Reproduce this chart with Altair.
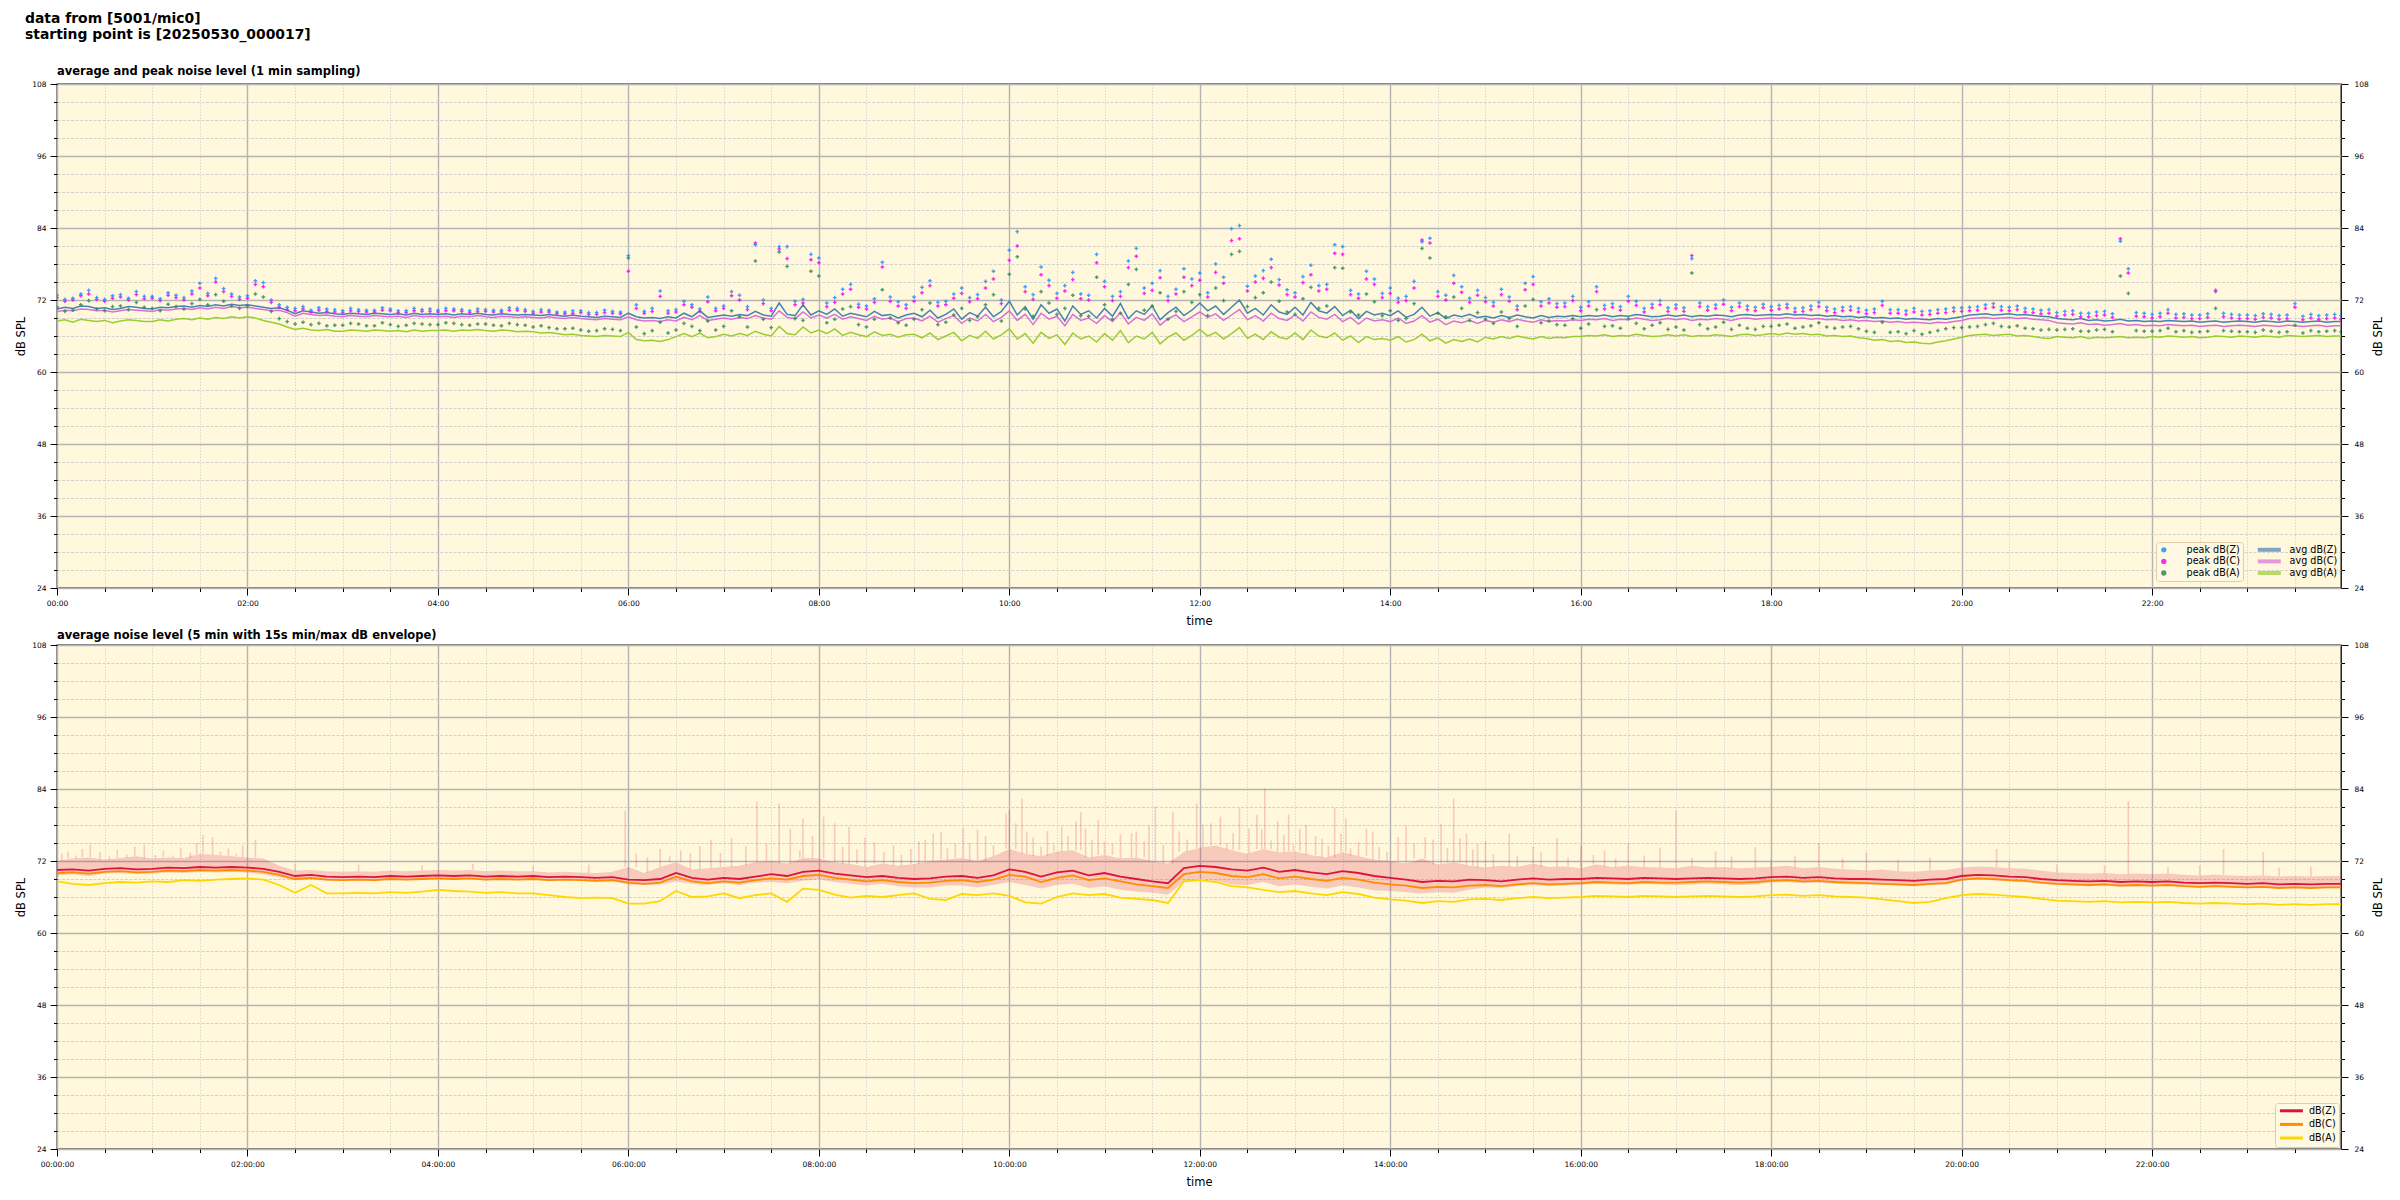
import altair as alt
import pandas as pd

FONT = "DejaVu Sans"
BG = "#fff8dc"
W, H = 2284, 504

# time in minutes after 00:00
T5 = [5 * i for i in range(288)] + [1439]
T10 = [10 * i for i in range(144)] + [1439]

# ---- top panel: 1-min averages (read every 5 min) ----
avg_z = [
    70.5, 70.8, 70.6, 71.0, 70.9, 70.6, 70.7, 70.4, 70.6, 70.9, 70.8, 70.6,
    70.5, 70.8, 70.7, 70.9, 71.0, 70.8, 71.1, 70.9, 71.2, 71.0, 71.3, 71.1,
    71.2, 71.0, 70.8, 70.6, 70.7, 70.3, 69.7, 70.2, 70.0, 69.8, 69.9, 69.7,
    69.6, 69.8, 69.7, 69.6, 69.8, 69.7, 69.6, 69.7, 69.5, 69.8, 69.6, 69.7,
    69.6, 69.7, 69.5, 69.7, 69.6, 69.8, 69.6, 69.5, 69.7, 69.6, 69.5, 69.6,
    69.5, 69.4, 69.6, 69.4, 69.3, 69.5, 69.3, 69.2, 69.1, 69.3, 69.2, 69.1,
    69.8, 69.2, 69.0, 69.1, 68.9, 69.2, 69.0, 69.8, 69.2, 70.2, 69.1, 69.3,
    69.5, 69.3, 69.6, 69.4, 70.1, 69.5, 69.3, 71.5, 69.6, 69.4, 71.2, 69.5,
    70.2, 69.6, 70.5, 69.3, 69.8, 69.5, 69.2, 70.1, 69.4, 69.6, 69.0, 69.5,
    69.8, 69.2, 70.3, 69.0, 69.6, 70.5, 68.8, 69.9, 69.3, 70.8, 69.2, 70.1,
    71.8, 69.5, 70.9, 68.8, 71.2, 69.8, 70.5, 68.5, 71.0, 69.6, 70.2, 69.0,
    70.6, 69.3, 71.4, 68.9, 70.2, 69.6, 71.0, 68.7, 69.9, 70.8, 69.4, 70.3,
    71.5, 70.2, 71.0, 69.6, 70.8, 72.0, 69.8, 70.6, 69.5, 71.2, 70.0, 69.6,
    70.8, 69.5, 71.6, 70.2, 69.8, 70.9, 69.4, 70.3, 68.9, 70.1, 69.5, 69.8,
    69.4, 70.2, 69.1, 69.6, 70.8, 69.3, 69.9, 68.9, 69.5, 69.2, 69.6, 69.1,
    69.3, 69.0, 69.4, 69.1, 69.5, 69.2, 69.0, 69.4, 69.1, 69.3, 69.2, 69.4,
    69.2, 69.4, 69.3, 69.5, 69.2, 69.4, 69.3, 69.6, 69.4, 69.2, 69.3, 69.5,
    69.3, 69.5, 69.2, 69.4, 69.3, 69.5, 69.4, 69.2, 69.5, 69.6, 69.4, 69.5,
    69.6, 69.5, 69.7, 69.5, 69.6, 69.4, 69.5, 69.3, 69.4, 69.2, 69.3, 69.1,
    69.2, 69.0, 69.1, 68.9, 69.0, 68.8, 68.9, 68.8, 68.7, 68.9, 68.8, 69.0,
    69.2, 69.5, 69.6, 69.7, 69.5, 69.6, 69.7, 69.5, 69.6, 69.4, 69.3, 69.2,
    68.9, 68.8, 68.7, 68.9, 68.6, 68.7, 68.5, 68.6, 68.8, 68.5, 68.6, 68.4,
    68.5, 68.4, 68.6, 68.5, 68.4, 68.5, 68.3, 68.4, 68.5, 68.3, 68.4, 68.5,
    68.4, 68.3, 68.5, 68.4, 68.3, 68.5, 68.4, 68.3, 68.4, 68.5, 68.3, 68.4,
    68.4,
]
avg_c = [
    70.1, 70.3, 70.2, 70.5, 70.4, 70.2, 70.3, 70.0, 70.2, 70.4, 70.3, 70.2,
    70.1, 70.4, 70.3, 70.5, 70.6, 70.4, 70.7, 70.5, 70.8, 70.6, 70.9, 70.7,
    70.8, 70.6, 70.4, 70.2, 70.3, 69.9, 69.3, 69.8, 69.6, 69.4, 69.5, 69.3,
    69.2, 69.4, 69.3, 69.2, 69.4, 69.3, 69.2, 69.3, 69.1, 69.4, 69.2, 69.3,
    69.2, 69.3, 69.1, 69.3, 69.2, 69.4, 69.2, 69.1, 69.3, 69.2, 69.1, 69.2,
    69.1, 69.0, 69.2, 69.0, 68.9, 69.1, 68.9, 68.8, 68.7, 68.9, 68.8, 68.7,
    69.2, 68.7, 68.5, 68.6, 68.4, 68.7, 68.5, 69.1, 68.7, 69.4, 68.6, 68.8,
    69.0, 68.8, 69.1, 68.9, 69.4, 69.0, 68.8, 70.2, 69.1, 68.9, 70.0, 69.0,
    69.5, 69.0, 69.6, 68.8, 69.2, 68.9, 68.6, 69.3, 68.8, 69.0, 68.4, 68.9,
    69.0, 68.5, 69.3, 68.3, 68.9, 69.4, 68.1, 69.0, 68.5, 69.6, 68.4, 69.1,
    70.2, 68.6, 69.6, 67.9, 69.8, 68.8, 69.3, 67.7, 69.6, 68.6, 69.0, 68.1,
    69.4, 68.4, 69.9, 68.0, 69.1, 68.6, 69.7, 67.8, 68.9, 69.5, 68.4, 69.2,
    70.0, 69.1, 69.7, 68.6, 69.5, 70.4, 68.7, 69.4, 68.5, 69.8, 68.9, 68.6,
    69.5, 68.5, 70.0, 69.1, 68.8, 69.6, 68.4, 69.1, 68.0, 69.0, 68.5, 68.7,
    68.4, 69.0, 68.1, 68.5, 69.4, 68.3, 68.8, 67.9, 68.5, 68.2, 68.6, 68.1,
    68.6, 68.3, 68.7, 68.4, 68.8, 68.5, 68.3, 68.7, 68.4, 68.6, 68.5, 68.7,
    68.6, 68.8, 68.7, 68.9, 68.6, 68.8, 68.7, 69.0, 68.8, 68.6, 68.7, 68.9,
    68.7, 68.9, 68.6, 68.8, 68.7, 68.9, 68.8, 68.6, 68.9, 69.0, 68.8, 68.9,
    69.0, 68.9, 69.1, 68.9, 69.0, 68.8, 68.9, 68.7, 68.8, 68.6, 68.7, 68.5,
    68.6, 68.4, 68.5, 68.3, 68.4, 68.2, 68.3, 68.2, 68.1, 68.3, 68.2, 68.4,
    68.6, 68.9, 69.0, 69.1, 68.9, 69.0, 69.1, 68.9, 69.0, 68.8, 68.7, 68.6,
    68.2, 68.1, 68.0, 68.2, 67.9, 68.0, 67.8, 67.9, 68.1, 67.8, 67.9, 67.7,
    67.8, 67.7, 67.9, 67.8, 67.7, 67.8, 67.6, 67.7, 67.8, 67.6, 67.7, 67.8,
    67.7, 67.6, 67.8, 67.7, 67.6, 67.8, 67.7, 67.6, 67.7, 67.8, 67.6, 67.7,
    67.7,
]
avg_a = [
    68.5, 68.7, 68.3, 68.8, 68.6, 68.4, 68.6, 68.2, 68.5, 68.7, 68.6, 68.4,
    68.4, 68.7, 68.5, 68.8, 68.9, 68.7, 69.0, 68.8, 69.1, 68.9, 69.2, 69.0,
    69.2, 69.0, 68.6, 68.3, 68.0, 67.5, 67.1, 67.3, 67.0, 66.9, 67.1, 66.8,
    66.8, 67.0, 66.9, 66.8, 67.0, 66.9, 66.8, 66.9, 66.7, 67.0, 66.8, 66.9,
    66.9, 67.0, 66.8, 67.0, 66.9, 67.1, 66.9, 66.8, 67.0, 66.9, 66.7, 66.8,
    66.7, 66.5, 66.6, 66.4, 66.2, 66.3, 66.1, 66.0, 65.9, 66.1, 66.0, 65.9,
    66.6, 65.4, 65.2, 65.3, 65.1, 65.4, 65.9, 66.4, 65.9, 66.5, 65.7, 65.9,
    66.3, 66.0, 66.4, 66.1, 66.8, 66.3, 66.0, 67.6, 66.4, 66.2, 67.5, 66.5,
    67.0, 66.4, 67.2, 66.1, 66.6, 66.2, 65.9, 66.7, 66.1, 66.3, 65.8, 66.2,
    66.3, 65.7, 66.5, 65.4, 66.0, 66.6, 65.2, 66.1, 65.6, 66.8, 65.5, 66.2,
    67.2, 65.5, 66.4, 64.8, 66.6, 65.6, 66.2, 64.6, 66.5, 65.5, 66.0, 65.0,
    66.4, 65.3, 66.9, 64.9, 66.0, 65.5, 66.6, 64.7, 65.8, 66.5, 65.3, 66.1,
    67.1, 66.0, 66.6, 65.5, 66.4, 67.4, 65.6, 66.3, 65.4, 66.7, 65.8, 65.5,
    66.5, 65.4, 67.0, 66.0, 65.7, 66.5, 65.3, 66.0, 64.9, 65.9, 65.4, 65.6,
    65.3, 65.9, 65.0, 65.4, 66.3, 65.2, 65.7, 64.8, 65.4, 65.1, 65.5, 65.0,
    65.8, 65.5, 65.9, 65.6, 66.0, 65.7, 65.5, 65.9, 65.6, 65.8, 65.7, 65.9,
    65.9, 66.1, 66.0, 66.2, 65.9, 66.1, 66.0, 66.3, 66.1, 65.9, 66.0, 66.2,
    66.0, 66.2, 65.9, 66.1, 66.0, 66.2, 66.1, 65.9, 66.2, 66.3, 66.1, 66.2,
    66.4, 66.2, 66.5, 66.3, 66.4, 66.2, 66.3, 66.0, 66.1, 65.9, 66.0, 65.7,
    65.6, 65.3, 65.4, 65.1, 65.2, 64.9, 65.0, 64.8, 64.7, 65.0, 65.2, 65.5,
    65.8, 66.1, 66.2, 66.3, 66.1, 66.2, 66.3, 66.0, 66.1, 65.9, 65.7, 65.6,
    65.9, 65.8, 65.7, 65.9, 65.6, 65.8, 65.7, 65.8, 65.9, 65.7, 65.8, 65.7,
    65.9, 65.8, 66.0, 65.9, 65.8, 65.9, 65.7, 65.8, 66.0, 65.9, 65.8, 66.0,
    65.9, 65.8, 66.0, 65.9, 65.8, 66.1, 66.0, 65.9, 66.0, 66.1, 65.9, 66.0,
    66.0,
]

# ---- top panel: 1-min peaks (read every 5 min) ----
peak_z = [
    72.8, 72.1, 72.3, 73.0, 73.6, 72.4, 72.1, 72.7, 72.9, 72.3, 73.4, 72.6,
    72.6, 72.2, 73.2, 72.8, 72.4, 73.5, 74.8, 73.1, 75.6, 73.9, 73.0, 72.5,
    72.7, 75.2, 74.9, 72.0, 71.2, 70.8, 70.6, 70.9, 70.3, 70.7, 70.5, 70.4,
    70.2, 70.6, 70.4, 70.3, 70.3, 70.7, 70.5, 70.2, 70.2, 70.6, 70.4, 70.5,
    70.3, 70.6, 70.5, 70.4, 70.2, 70.5, 70.4, 70.3, 70.3, 70.7, 70.6, 70.4,
    70.1, 70.4, 70.3, 70.0, 70.0, 70.2, 70.2, 69.9, 69.9, 70.3, 70.1, 70.0,
    79.4, 71.2, 70.1, 70.6, 73.5, 70.2, 70.4, 71.8, 71.2, 70.5, 72.5, 70.6,
    71.0, 73.4, 72.8, 70.9, 81.2, 72.0, 70.6, 80.9, 80.9, 71.8, 72.1, 79.6,
    79.0, 71.5, 72.4, 73.8, 74.6, 71.3, 71.0, 72.2, 78.3, 72.5, 71.7, 71.2,
    72.5, 74.1, 75.2, 71.6, 71.8, 73.0, 74.0, 72.4, 72.9, 75.1, 76.8, 72.0,
    80.3, 83.4, 74.2, 72.9, 77.5, 75.3, 73.1, 74.4, 76.6, 73.0, 72.8, 79.6,
    75.1, 72.6, 73.4, 78.5, 80.6, 74.0, 74.8, 76.9, 72.6, 73.8, 77.2, 75.5,
    76.5, 73.2, 78.0, 75.8, 83.9, 84.4, 74.3, 76.0, 76.9, 78.8, 75.4, 73.7,
    73.2, 75.9, 77.8, 74.4, 74.6, 81.2, 80.9, 73.6, 73.0, 76.8, 75.5, 73.1,
    74.0, 72.3, 72.6, 75.1, 81.7, 82.3, 73.4, 72.8, 76.1, 74.2, 72.3, 73.6,
    72.4, 71.6, 73.8, 72.5, 71.0, 74.8, 75.9, 71.7, 72.2, 71.4, 71.5, 72.6,
    70.8, 71.7, 74.2, 71.1, 71.4, 70.9, 72.6, 71.8, 70.6, 71.3, 71.9, 70.7,
    71.2, 70.7, 78.9, 71.5, 70.9, 71.2, 72.0, 70.8, 71.5, 71.0, 70.8, 71.3,
    70.9, 71.1, 71.3, 70.6, 70.7, 71.0, 71.6, 70.8, 70.5, 70.8, 70.9, 70.6,
    70.3, 70.5, 71.8, 70.4, 70.4, 70.2, 70.6, 70.1, 70.2, 70.4, 70.5, 70.7,
    70.7, 70.8, 70.9, 71.2, 71.4, 70.9, 70.8, 71.0, 70.6, 70.5, 70.3, 70.4,
    69.9, 70.1, 70.2, 69.8, 69.8, 70.0, 70.1, 69.7, 81.8, 77.2, 69.9, 69.8,
    69.6, 69.8, 70.4, 69.6, 69.7, 69.5, 69.5, 69.7, 73.4, 69.8, 69.6, 69.5,
    69.5, 69.4, 69.7, 69.6, 69.4, 69.5, 71.4, 69.3, 69.6, 69.4, 69.5, 69.6,
    69.4,
]
peak_c = [
    72.4, 71.8, 72.0, 72.7, 73.0, 72.1, 71.8, 72.3, 72.5, 72.0, 72.9, 72.2,
    72.3, 71.9, 72.8, 72.4, 72.0, 73.0, 74.0, 72.7, 75.0, 73.4, 72.6, 72.1,
    72.3, 74.6, 74.2, 71.6, 70.8, 70.4, 70.2, 70.5, 70.0, 70.3, 70.1, 70.0,
    69.9, 70.2, 70.1, 70.0, 70.0, 70.3, 70.2, 69.9, 69.9, 70.2, 70.1, 70.1,
    70.0, 70.2, 70.2, 70.1, 69.9, 70.1, 70.1, 70.0, 70.0, 70.3, 70.3, 70.1,
    69.8, 70.0, 70.0, 69.7, 69.7, 69.8, 69.9, 69.6, 69.6, 69.9, 69.8, 69.7,
    76.8, 70.6, 69.8, 70.1, 72.6, 69.8, 70.0, 71.2, 70.8, 70.1, 71.7, 70.2,
    70.6, 72.7, 72.0, 70.4, 81.5, 71.4, 70.2, 80.5, 78.9, 71.2, 71.5, 78.7,
    78.2, 70.9, 71.6, 73.0, 73.8, 70.8, 70.5, 71.6, 77.5, 71.8, 71.0, 70.6,
    71.8, 73.2, 74.4, 71.0, 71.2, 72.3, 73.1, 71.7, 72.2, 74.0, 75.5, 71.4,
    78.6, 81.0, 73.4, 72.1, 76.2, 74.4, 72.3, 73.5, 75.4, 72.2, 72.0, 78.2,
    74.2, 71.9, 72.6, 77.4, 79.3, 73.1, 73.6, 75.7, 71.9, 73.0, 75.8, 74.4,
    75.3, 72.5, 76.6, 74.8, 81.9, 82.2, 73.5, 75.0, 75.6, 77.4, 74.5, 72.9,
    72.5, 74.9, 76.2, 73.5, 73.8, 79.8, 79.6, 72.9, 72.3, 75.5, 74.6, 72.4,
    73.1, 71.6, 71.9, 74.0, 82.0, 81.5, 72.6, 72.0, 74.8, 73.3, 71.6, 72.8,
    71.7, 71.0, 72.9, 71.8, 70.4, 73.7, 74.6, 71.0, 71.5, 70.8, 70.9, 71.9,
    70.2, 71.0, 73.4, 70.5, 70.8, 70.3, 71.8, 71.1, 70.0, 70.7, 71.2, 70.1,
    70.6, 70.1, 79.4, 70.9, 70.3, 70.6, 71.3, 70.2, 70.9, 70.4, 70.2, 70.7,
    70.3, 70.5, 70.7, 70.0, 70.1, 70.4, 70.9, 70.2, 69.9, 70.2, 70.3, 70.0,
    69.7, 69.9, 71.1, 69.8, 69.8, 69.6, 70.0, 69.5, 69.6, 69.8, 69.9, 70.1,
    70.1, 70.2, 70.3, 70.6, 70.8, 70.3, 70.2, 70.4, 70.0, 69.9, 69.7, 69.8,
    69.3, 69.5, 69.6, 69.2, 69.2, 69.4, 69.5, 69.1, 82.2, 76.5, 69.3, 69.2,
    69.0, 69.2, 69.8, 69.0, 69.1, 68.9, 68.9, 69.1, 73.6, 69.2, 69.0, 68.9,
    68.9, 68.8, 69.1, 69.0, 68.8, 68.9, 70.8, 68.7, 69.0, 68.8, 68.9, 69.0,
    68.8,
]
peak_a = [
    70.8, 70.1, 70.3, 71.2, 71.9, 70.5, 70.2, 70.9, 71.0, 70.4, 71.6, 70.8,
    70.6, 70.2, 71.3, 70.9, 70.5, 71.4, 72.1, 71.2, 72.9, 71.8, 71.0, 70.6,
    71.0, 73.0, 72.5, 70.1, 68.9, 68.4, 68.0, 68.3, 67.9, 68.1, 67.7, 67.8,
    67.8, 68.1, 68.0, 67.7, 67.7, 68.2, 67.9, 67.6, 67.8, 68.1, 68.0, 67.9,
    67.9, 68.2, 68.1, 67.9, 67.8, 68.0, 68.0, 67.8, 67.7, 68.1, 67.9, 67.8,
    67.5, 67.7, 67.4, 67.2, 67.2, 67.3, 67.0, 66.8, 66.9, 67.2, 67.1, 66.9,
    79.0, 67.5, 66.4, 66.9, 68.3, 66.5, 67.0, 68.1, 67.6, 66.9, 68.5, 67.0,
    67.6, 70.2, 69.2, 67.5, 78.5, 68.8, 67.4, 80.0, 77.6, 68.9, 68.6, 76.8,
    76.0, 68.2, 68.8, 70.5, 70.9, 67.9, 67.5, 68.8, 73.7, 69.0, 68.2, 67.8,
    68.8, 70.4, 71.5, 67.9, 68.3, 69.5, 70.6, 68.6, 69.2, 71.2, 72.9, 68.5,
    76.3, 79.2, 70.5, 69.3, 73.4, 71.5, 69.6, 70.6, 72.8, 69.4, 69.3, 75.8,
    71.2, 68.8, 69.8, 74.6, 77.1, 70.3, 71.0, 73.2, 68.8, 70.1, 73.4, 71.6,
    72.9, 69.4, 74.0, 71.9, 79.6, 80.1, 70.9, 72.4, 73.2, 75.0, 71.8, 70.0,
    69.6, 72.2, 74.1, 70.6, 71.0, 77.4, 77.3, 70.0, 69.5, 73.0, 71.7, 69.4,
    70.2, 68.6, 68.9, 71.4, 80.6, 79.0, 69.8, 69.2, 72.5, 70.6, 68.6, 69.9,
    68.8, 68.1, 70.0, 68.9, 67.6, 71.0, 72.1, 68.2, 68.5, 67.9, 67.8, 68.9,
    67.3, 68.0, 70.4, 67.6, 67.7, 67.3, 68.9, 68.1, 67.2, 67.8, 68.2, 67.1,
    67.5, 67.0, 76.5, 67.9, 67.2, 67.5, 68.3, 67.1, 67.8, 67.3, 67.1, 67.6,
    67.6, 67.8, 68.0, 67.3, 67.5, 67.7, 68.2, 67.5, 67.3, 67.5, 67.6, 67.2,
    66.8, 66.6, 68.3, 66.6, 66.7, 66.4, 66.9, 66.3, 66.6, 66.9, 67.2, 67.4,
    67.4, 67.5, 67.6, 67.9, 68.1, 67.6, 67.5, 67.7, 67.3, 67.2, 67.0, 67.1,
    67.0, 67.1, 67.2, 66.8, 66.8, 67.0, 67.1, 66.7, 76.0, 73.1, 66.9, 66.8,
    66.8, 66.9, 67.3, 66.7, 66.9, 66.6, 66.7, 66.8, 70.6, 66.9, 66.8, 66.7,
    66.7, 66.6, 67.0, 66.8, 66.6, 66.7, 67.8, 66.5, 66.9, 66.7, 66.8, 66.9,
    66.7,
]

# ---- bottom panel: 5-min averages (read every 10 min) ----
lvl_z = [
    70.5, 70.6, 70.4, 70.7, 70.8, 70.6,
    70.7, 70.9, 70.8, 71.0, 70.9, 71.0,
    70.9, 70.7, 70.2, 69.5, 69.7, 69.4,
    69.3, 69.4, 69.3, 69.5, 69.4, 69.5,
    69.6, 69.5, 69.6, 69.4, 69.5, 69.4,
    69.5, 69.3, 69.4, 69.3, 69.2, 69.3,
    68.9, 68.8, 69.0, 70.0, 69.2, 68.9,
    69.2, 69.0, 69.4, 69.8, 69.5, 70.2,
    70.4, 69.9, 69.6, 69.3, 69.5, 69.2,
    69.0, 69.1, 69.4, 69.5, 69.2, 69.6,
    70.6, 70.2, 69.4, 70.1, 70.4, 69.6,
    70.0, 69.4, 69.0, 68.6, 68.3, 70.8,
    71.2, 71.0, 70.6, 70.4, 70.9, 70.2,
    70.5, 70.1, 69.8, 70.3, 70.0, 69.5,
    69.2, 68.9, 68.5, 68.7, 68.6, 68.9,
    68.8, 68.6, 68.9, 69.1, 68.9, 69.0,
    69.0, 69.2, 69.1, 69.0, 69.2, 69.1,
    69.0, 69.1, 69.2, 69.1, 69.0, 69.1,
    69.3, 69.4, 69.2, 69.3, 69.1, 69.0,
    69.0, 68.9, 68.8, 68.7, 68.9, 69.0,
    69.5, 69.7, 69.6, 69.4, 69.3, 69.0,
    68.8, 68.7, 68.6, 68.7, 68.5, 68.6,
    68.5, 68.6, 68.4, 68.3, 68.4, 68.3,
    68.2, 68.3, 68.1, 68.2, 68.1, 68.2,
    68.2,
]
lvl_c = [
    70.0, 70.1, 69.9, 70.2, 70.3, 70.1,
    70.2, 70.4, 70.3, 70.5, 70.4, 70.5,
    70.4, 70.2, 69.7, 69.0, 69.2, 68.9,
    68.8, 68.9, 68.8, 69.0, 68.9, 69.0,
    69.1, 69.0, 69.1, 68.9, 69.0, 68.9,
    69.0, 68.8, 68.9, 68.8, 68.7, 68.8,
    68.4, 68.2, 68.4, 69.4, 68.6, 68.3,
    68.6, 68.4, 68.8, 69.1, 68.9, 69.5,
    69.7, 69.2, 68.9, 68.6, 68.8, 68.5,
    68.3, 68.4, 68.7, 68.8, 68.5, 68.9,
    69.7, 69.4, 68.5, 69.2, 69.6, 68.8,
    69.1, 68.6, 68.1, 67.8, 67.5, 69.8,
    70.2, 70.0, 69.5, 69.3, 69.8, 69.1,
    69.4, 69.0, 68.7, 69.2, 68.9, 68.4,
    68.1, 67.9, 67.5, 67.7, 67.6, 67.9,
    68.0, 67.8, 68.1, 68.3, 68.1, 68.2,
    68.3, 68.5, 68.4, 68.3, 68.5, 68.4,
    68.4, 68.5, 68.6, 68.5, 68.4, 68.5,
    68.7, 68.8, 68.6, 68.7, 68.5, 68.4,
    68.3, 68.2, 68.1, 68.0, 68.2, 68.3,
    68.9, 69.1, 69.0, 68.8, 68.7, 68.4,
    68.2, 68.1, 68.0, 68.1, 67.9, 68.0,
    67.9, 68.0, 67.8, 67.7, 67.8, 67.7,
    67.6, 67.7, 67.5, 67.6, 67.5, 67.6,
    67.6,
]
lvl_a = [
    68.6, 68.2, 68.0, 68.3, 68.5, 68.4,
    68.6, 68.5, 68.8, 68.7, 68.9, 69.0,
    69.1, 68.9, 68.0, 66.7, 68.0, 66.6,
    66.6, 66.7, 66.6, 66.8, 66.7, 66.9,
    67.2, 67.0, 66.9, 66.7, 66.8, 66.6,
    66.6, 66.3, 66.0, 65.8, 65.9, 65.8,
    64.9, 64.9, 65.3, 67.0, 66.0, 66.1,
    66.6, 65.8, 66.3, 66.6, 65.2, 67.4,
    67.2, 66.4, 65.9, 66.2, 66.0, 66.3,
    66.6, 65.7, 65.5, 66.5, 66.3, 66.6,
    66.2, 65.1, 64.9, 66.0, 66.6, 66.3,
    66.5, 65.9, 65.7, 65.5, 65.0, 68.6,
    68.8, 68.5, 67.8, 67.6, 67.2, 66.8,
    67.0, 66.6, 66.3, 66.8, 66.5, 65.9,
    65.6, 65.4, 65.0, 65.3, 65.2, 65.6,
    65.7, 65.5, 65.8, 66.0, 65.8, 65.9,
    66.0, 66.2, 66.1, 66.0, 66.2, 66.1,
    66.0, 66.1, 66.2, 66.1, 66.0, 66.1,
    66.3, 66.4, 66.2, 66.3, 66.1, 66.0,
    65.9, 65.6, 65.3, 65.0, 65.2, 65.8,
    66.3, 66.5, 66.4, 66.2, 66.0, 65.7,
    65.4, 65.3, 65.2, 65.3, 65.1, 65.2,
    65.1, 65.2, 65.0, 64.9, 65.0, 64.9,
    64.8, 64.9, 64.7, 64.8, 64.7, 64.8,
    64.8,
]

# ---- bottom panel: 15 s min/max envelope (base band every 10 min) ----
env_lo = [
    69.6, 69.8, 69.5, 69.9, 70.0, 69.8,
    69.9, 70.1, 70.0, 70.2, 70.1, 70.2,
    70.1, 69.8, 69.3, 68.8, 68.9, 68.7,
    68.7, 68.8, 68.7, 68.9, 68.8, 68.9,
    69.0, 68.9, 69.0, 68.8, 68.9, 68.8,
    68.9, 68.7, 68.8, 68.7, 68.6, 68.6,
    68.1, 68.0, 68.1, 68.6, 68.2, 68.0,
    68.3, 68.0, 68.4, 68.5, 68.3, 68.7,
    68.9, 68.5, 68.2, 67.9, 68.2, 67.8,
    67.6, 67.6, 67.9, 67.9, 67.6, 68.0,
    68.5, 68.0, 67.4, 68.0, 68.2, 67.5,
    67.8, 67.2, 66.9, 66.7, 66.4, 68.6,
    69.0, 68.7, 68.1, 68.0, 68.5, 67.8,
    68.1, 67.7, 67.4, 67.9, 67.6, 67.1,
    67.0, 66.8, 66.6, 66.8, 66.7, 67.2,
    67.6, 67.5, 67.8, 68.0, 67.8, 67.9,
    68.0, 68.2, 68.1, 68.0, 68.2, 68.1,
    68.0, 68.1, 68.2, 68.1, 68.0, 68.1,
    68.4, 68.5, 68.3, 68.4, 68.2, 68.1,
    68.1, 68.0, 67.9, 67.8, 68.0, 68.1,
    68.7, 68.9, 68.8, 68.6, 68.5, 68.2,
    68.0, 67.9, 67.8, 67.9, 67.7, 67.8,
    67.8, 67.9, 67.7, 67.6, 67.7, 67.6,
    67.6, 67.7, 67.5, 67.6, 67.5, 67.6,
    67.6,
]
env_hi = [
    72.0, 72.4, 72.6, 72.2, 72.5, 72.8,
    72.4, 72.6, 72.5, 73.2, 73.0, 72.8,
    72.6, 72.4, 71.2, 70.4, 70.5, 70.3,
    70.2, 70.3, 70.2, 70.4, 70.3, 70.4,
    70.5, 70.4, 70.5, 70.3, 70.4, 70.3,
    70.3, 70.1, 70.2, 70.1, 70.0, 70.2,
    71.0, 70.0, 71.0, 71.8, 70.6, 70.8,
    71.0, 71.2, 71.8, 72.0, 71.6, 72.5,
    72.4, 71.8, 71.5, 71.0, 71.6, 71.2,
    71.5, 72.0, 72.2, 72.5, 72.0, 72.8,
    74.0, 73.2, 72.8, 73.6, 73.8, 72.6,
    73.0, 72.4, 72.6, 72.0, 71.6, 73.5,
    74.2, 74.6, 73.8, 73.2, 74.0, 73.4,
    73.6, 73.0, 72.6, 73.5, 72.8, 72.2,
    72.0, 71.6, 72.4, 71.4, 71.8, 71.2,
    70.9, 71.2, 71.0, 71.6, 71.0, 71.1,
    70.8, 71.4, 71.0, 71.2, 71.0, 70.9,
    70.8, 71.2, 70.9, 71.0, 70.8, 70.9,
    71.0, 71.2, 70.8, 71.0, 70.7, 70.6,
    70.4, 70.6, 70.3, 70.2, 70.4, 70.5,
    70.9, 71.1, 71.0, 70.8, 70.7, 70.4,
    70.1, 70.0, 69.9, 70.0, 69.8, 69.9,
    69.8, 69.9, 69.7, 69.6, 69.7, 69.6,
    69.5, 69.6, 69.4, 69.5, 69.4, 69.5,
    69.5,
]
# tall envelope spikes: minute of day, max dB
spike_t = [7, 21, 55, 92, 98, 125, 358, 399, 412, 434, 441, 455, 462, 470, 483,
           490, 499, 509, 532, 547, 552, 566, 580, 598, 600, 608, 611, 628, 633,
           642, 645, 648, 660, 677, 680, 692, 703, 718, 727, 733, 745, 751, 756,
           761, 769, 776, 783, 793, 805, 812, 815, 829, 838, 850, 862, 872, 880,
           888, 895, 900, 915, 930, 945, 960, 975, 990, 1010, 1020, 1045, 1070,
           1110, 1140, 1222, 1305, 1365, 1390]
spike_v = [73.6, 74.7, 74.7, 76.3, 76.0, 75.5, 80.4, 73.3, 75.5, 74.4, 81.9, 81.6,
           77.4, 79.1, 79.4, 78.3, 77.7, 75.9, 73.0, 75.5, 76.6, 74.9, 77.2, 79.9,
           80.5, 82.4, 76.9, 74.7, 77.7, 78.6, 80.2, 77.4, 75.2, 76.6, 76.9, 81.1,
           80.2, 81.6, 78.3, 79.4, 80.8, 77.4, 79.7, 84.1, 78.6, 79.7, 77.4, 76.1,
           80.8, 79.1, 74.1, 76.9, 73.5, 77.9, 76.0, 78.2, 82.4, 76.6, 74.8, 75.3,
           76.6, 74.4, 75.8, 74.5, 73.8, 75.0, 74.2, 80.4, 73.6, 74.3, 75.0, 73.4,
           74.0, 82.0, 74.0, 73.5]
# small envelope spikes (the hairy part of the band)
hair_t = [3, 12, 16, 27, 33, 38, 44, 49, 62, 67, 73, 78, 84, 88, 103, 108, 113, 117,
          150, 190, 230, 262, 300, 335,
          365, 372, 380, 386, 393, 405, 418, 425, 447, 468, 476, 495, 504, 515, 521,
          527, 538, 543, 557, 561, 571, 575, 585, 590, 604, 615, 620, 624, 637, 652,
          656, 665, 670, 685, 688, 697, 707, 712, 722, 737, 741, 759, 765, 773, 779,
          787, 797, 801, 809, 820, 825, 833, 845, 855, 867, 876, 884, 892,
          905, 920, 935, 952, 968, 982, 1000, 1030, 1055, 1080, 1095, 1125, 1160,
          1180, 1200, 1230, 1260, 1290, 1330, 1350, 1400, 1420]
hair_v = [73.2, 72.9, 74.0, 73.5, 72.8, 73.9, 73.1, 74.4, 73.0, 73.7, 72.9, 74.2,
          73.4, 75.0, 73.6, 74.1, 73.2, 74.6,
          71.6, 71.4, 71.3, 71.5, 71.2, 71.4,
          73.2, 72.6, 74.0, 72.9, 73.8, 74.5, 73.4, 75.8, 74.9, 73.7, 76.2, 74.3,
          73.9, 75.1, 73.5, 74.6, 74.0, 75.2, 76.8, 74.1, 77.5, 75.0, 76.1, 74.6,
          78.3, 75.9, 74.4, 77.0, 76.2, 75.5, 78.8, 74.9, 76.5, 75.3, 77.9, 74.7,
          76.9, 75.6, 78.1, 75.0, 76.7, 77.3, 75.4, 76.3, 74.8, 78.0, 75.7, 74.5,
          76.6, 75.1, 77.4, 74.3, 76.0, 74.9, 75.6, 74.2, 75.8, 73.9,
          73.1, 72.8, 73.5, 72.6, 73.0, 72.4, 72.9, 72.5, 72.7, 72.3, 72.8, 72.4,
          72.2, 72.6, 71.9, 71.8, 71.4, 71.2, 71.0, 71.3, 70.9, 71.1]

TOP_LINE_NAMES = ["avg dB(Z)", "avg dB(C)", "avg dB(A)"]
TOP_LINE_COLORS = ["#4682b4", "#da70d6", "#9acd32"]
TOP_PEAK_NAMES = ["peak dB(Z)", "peak dB(C)", "peak dB(A)"]
TOP_PEAK_COLORS = ["#1e90ff", "#ff00ff", "#2e8b57"]
BOT_NAMES = ["dB(Z)", "dB(C)", "dB(A)"]
BOT_COLORS = ["#dc143c", "#ff8c00", "#ffd700"]


def long_df(times, d):
    rows = []
    for name, vals in d.items():
        assert len(vals) == len(times), (name, len(vals), len(times))
        rows += [{"t": t, "v": v, "s": name} for t, v in zip(times, vals)]
    return pd.DataFrame(rows)


top_lines = long_df(T5, {"avg dB(A)": avg_a, "avg dB(C)": avg_c, "avg dB(Z)": avg_z})
top_peaks = long_df(T5, {"peak dB(A)": peak_a, "peak dB(C)": peak_c, "peak dB(Z)": peak_z})
bot_lines = long_df(T10, {"dB(A)": lvl_a, "dB(C)": lvl_c, "dB(Z)": lvl_z})
assert len(env_lo) == len(T10) and len(env_hi) == len(T10)
env = pd.DataFrame({"t": T10, "lo": env_lo, "hi": env_hi})
assert len(spike_t) == len(spike_v) and len(hair_t) == len(hair_v)
all_t = spike_t + hair_t
spk = pd.DataFrame({"t": all_t, "top": spike_v + hair_v,
                    "base": [env_hi[min(round(t / 10), 144)] for t in all_t]})

# legend-only rows for the top line legend (marks fall below the plot and are clipped)
top_key = pd.DataFrame({"s": TOP_LINE_NAMES, "t": [0] * 3, "v": [0] * 3})

MAJ_Y = "datum.value % 12 === 0"
MAJ_X = "datum.value % 120 === 0"

xs = alt.Scale(domain=[0, 1439], nice=False, zero=False)
ys = alt.Scale(domain=[24, 108], nice=False, zero=False)


def yaxis(orient):
    left = orient == "left"
    return alt.Axis(
        orient=orient, values=list(range(24, 109, 3)),
        labelExpr=f"{MAJ_Y} ? datum.label : ''", labelOverlap=False,
        tickSize={"condition": {"test": MAJ_Y, "value": 7}, "value": 3.5},
        tickColor="black", tickWidth=1,
        grid=left,
        gridColor={"condition": {"test": MAJ_Y, "value": "#b4b4b4"}, "value": "#c6c6c6"},
        gridDash={"condition": {"test": MAJ_Y, "value": []}, "value": [3, 1.5]},
        gridWidth={"condition": {"test": MAJ_Y, "value": 1.6}, "value": 0.8},
        domain=False,
        title="dB SPL", titleFont=FONT, titleFontSize=11.5, titleFontWeight="normal",
        titleColor="black", titleAngle=270, titlePadding=5 if left else 15,
        labelFont=FONT, labelFontSize=7.5, labelColor="black",
        labelPadding=4 if left else 6,
    )


def xaxis(suffix):
    return alt.Axis(
        values=list(range(0, 1440, 30)),
        labelExpr=f"{MAJ_X} ? format(datum.value / 60, '02d') + '{suffix}' : ''",
        labelOverlap=False, labelFlush=False,
        tickSize={"condition": {"test": MAJ_X, "value": 7}, "value": 3.5},
        tickColor="black", tickWidth=1,
        grid=True,
        gridColor={"condition": {"test": MAJ_X, "value": "#b4b4b4"}, "value": "#cfcfcf"},
        gridDash={"condition": {"test": MAJ_X, "value": []}, "value": [1.5, 1.5]},
        gridWidth={"condition": {"test": MAJ_X, "value": 1.4}, "value": 0.8},
        domain=False,
        title="time", titleFont=FONT, titleFontSize=11.5, titleFontWeight="normal",
        titleColor="black", titlePadding=9,
        labelFont=FONT, labelFontSize=7.5, labelColor="black", labelPadding=4,
    )


LEG = dict(orient="none", title=None, labelFont=FONT, labelFontSize=9.6,
           labelColor="black", labelLimit=400, rowPadding=0.6, padding=3)
BAR_SYM = "M-1,-1H10.5V1H-1Z"  # 23 px x 4 px bar at symbolSize 16
NBSP = "\u00a0" * 31
BOX = dict(fillColor="#fff9e4", strokeColor="#e0cca6", cornerRadius=3)


def panel_title(text, offset):
    return alt.TitleParams(text, anchor="start", frame="group", font=FONT, fontSize=11.5,
                           fontWeight="bold", color="black", offset=offset)


def Y(field, axis=None):
    return alt.Y(field, scale=ys, axis=axis)


# ---------------- top panel ----------------
XT = alt.X("t:Q", scale=xs, axis=xaxis(":00"))
lines_top = alt.Chart(top_lines).mark_line(strokeWidth=1.5, clip=True).encode(
    x=XT,
    y=Y("v:Q", yaxis("left")),
    stroke=alt.Stroke("s:N", scale=alt.Scale(domain=TOP_LINE_NAMES, range=TOP_LINE_COLORS),
                      legend=None),
)
pts_top = alt.Chart(top_peaks).mark_point(filled=True, shape="cross", size=13,
                                          opacity=0.85, strokeWidth=0, clip=True).encode(
    x=XT, y=Y("v:Q"),
    fill=alt.Fill("s:N", scale=alt.Scale(domain=TOP_PEAK_NAMES, range=TOP_PEAK_COLORS),
                  legend=alt.Legend(legendX=2099, legendY=458, symbolType="circle",
                                    symbolSize=28, symbolStrokeWidth=0, labelOffset=18,
                                    labelExpr=f"datum.label + '{NBSP}'", **BOX, **LEG)),
)
key_top = alt.Chart(top_key).mark_point(filled=True, strokeWidth=0, size=1, clip=True).encode(
    x=XT, y=Y("v:Q"),
    fill=alt.Fill("s:N", scale=alt.Scale(domain=TOP_LINE_NAMES, range=TOP_LINE_COLORS),
                  legend=alt.Legend(legendX=2195, legendY=458, symbolType=BAR_SYM,
                                    symbolSize=16, symbolStrokeWidth=0, labelOffset=25,
                                    **LEG)),
)
right_top = alt.Chart(pd.DataFrame({"v": [24, 108]})).mark_point(opacity=0).encode(
    y=Y("v:Q", yaxis("right")))

top = alt.layer(lines_top, pts_top, key_top, right_top).resolve_scale(
    y="independent", fill="independent").resolve_legend(fill="independent").properties(
    width=W, height=H, title=panel_title("average and peak noise level (1 min sampling)", 3))

# ---------------- bottom panel ----------------
XB = alt.X("t:Q", scale=xs, axis=xaxis(":00:00"))
band = alt.Chart(env).mark_area(color="#dc143c", opacity=0.2, clip=True).encode(
    x=XB,
    y=Y("lo:Q", yaxis("left")),
    y2="hi:Q",
)
spikes = alt.Chart(spk).mark_rule(color="#dc143c", opacity=0.2, strokeWidth=1.6, clip=True).encode(
    x=XB, y=Y("base:Q"), y2="top:Q",
)
lines_bot = alt.Chart(bot_lines).mark_line(strokeWidth=1.8, clip=True).encode(
    x=XB, y=Y("v:Q"),
    stroke=alt.Stroke("s:N", scale=alt.Scale(domain=BOT_NAMES, range=BOT_COLORS),
                      legend=alt.Legend(legendX=2218, legendY=458, symbolType="M-1,0H7",
                                        symbolSize=33, symbolStrokeWidth=3,
                                        symbolFillColor="transparent", labelOffset=21.3,
                                        **BOX, **LEG)),
)
right_bot = alt.Chart(pd.DataFrame({"v": [24, 108]})).mark_point(opacity=0).encode(
    y=Y("v:Q", yaxis("right")))

bottom = alt.layer(band, spikes, lines_bot, right_bot).resolve_scale(
    y="independent").properties(
    width=W, height=H,
    title=panel_title("average noise level (5 min with 15s min/max dB envelope)", 0))

chart = alt.vconcat(
    top, bottom, spacing=0,
    title=alt.TitleParams(["data from [5001/mic0]", "starting point is [20250530_000017]"],
                          anchor="start", frame="bounds", font=FONT, fontSize=13.9,
                          fontWeight="bold", color="black", lineHeight=15.5, dx=10, offset=23),
).resolve_scale(stroke="independent", fill="independent").resolve_legend(
    stroke="independent", fill="independent"
).properties(
    padding={"left": 7, "top": 4, "right": 0, "bottom": 5},
    background="white",
).configure(font=FONT).configure_view(fill=BG, stroke="black", strokeWidth=1.3)

chart.save("out.html", embed_options={"renderer": "svg", "actions": False})
